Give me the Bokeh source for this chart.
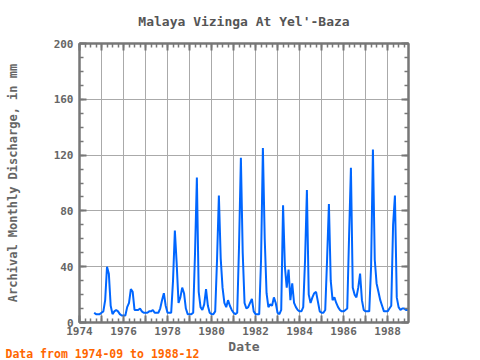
from bokeh.plotting import figure
from bokeh.models import Range1d, FixedTicker, LinearAxis, Title, CustomJSTickFormatter, ColumnDataSource
from bokeh.embed import file_html
from bokeh.resources import INLINE

# ---- data (monthly discharge, mm) ----
start_year = 1974
start_month = 9
flow_1974 = [7, 6, 6, 6]
flow_1975 = [7, 8, 16, 40, 35, 12, 6, 8, 9, 8, 6, 5]
flow_1976 = [5, 5, 11, 14, 24, 22, 9, 9, 9, 10, 8, 7]
flow_1977 = [7, 7, 8, 8, 9, 7, 7, 7, 10, 16, 21, 12]
flow_1978 = [7, 7, 7, 30, 66, 42, 14, 18, 25, 21, 10, 6]
flow_1979 = [6, 6, 7, 50, 104, 22, 11, 9, 13, 24, 12, 7]
flow_1980 = [6, 6, 8, 45, 91, 46, 25, 14, 11, 16, 12, 9]
flow_1981 = [7, 6, 7, 55, 118, 50, 14, 10, 11, 14, 17, 8]
flow_1982 = [6, 6, 6, 45, 125, 60, 21, 11, 13, 12, 18, 14]
flow_1983 = [7, 6, 9, 84, 40, 25, 38, 16, 28, 14, 11, 9]
flow_1984 = [8, 8, 11, 45, 95, 20, 14, 18, 21, 22, 15, 8]
flow_1985 = [7, 7, 9, 45, 85, 30, 16, 18, 14, 11, 9, 8]
flow_1986 = [8, 9, 10, 62, 111, 25, 20, 18, 25, 35, 16, 9]
flow_1987 = [8, 8, 8, 40, 124, 45, 28, 22, 16, 12, 8, 8]
flow_1988 = [8, 10, 12, 70, 91, 18, 11, 9, 10, 10, 9, 9]

x_tick_years = list(range(1974, 1990))
y_tick_values = [0, 40, 80, 120, 160, 200]

title_text = "Malaya Vizinga At Yel'-Baza"
y_label_text = "Archival Monthly Discharge, in mm"
x_label_text = "Date"
note_text = "Data from 1974-09 to 1988-12"

yearly = [flow_1974, flow_1975, flow_1976, flow_1977, flow_1978, flow_1979,
          flow_1980, flow_1981, flow_1982, flow_1983, flow_1984, flow_1985,
          flow_1986, flow_1987, flow_1988]
values = [v for yr in yearly for v in yr]
dates = [start_year + (start_month - 1 + i) / 12.0 for i in range(len(values))]
src = ColumnDataSource(data=dict(t=dates, q=values))

FONT = "DejaVu Sans Mono"
GRAY = "#777777"

p = figure(width=480, height=360,
           x_range=Range1d(1974, 1988.95), y_range=Range1d(0, 200),
           output_backend="svg", toolbar_location=None,
           min_border_left=79, min_border_right=72,
           min_border_top=43, min_border_bottom=38)
p.background_fill_color = "white"
p.border_fill_color = "white"
p.outline_line_color = GRAY
p.outline_line_width = 2

p.title = Title(text=title_text, align="center", vertical_align="top",
                text_font=FONT, text_font_size="13px", text_font_style="bold",
                text_color="#555555", standoff=26)

xt = FixedTicker(ticks=x_tick_years,
                 minor_ticks=[y + q / 4.0 for y in x_tick_years for q in range(4)])
yt = FixedTicker(ticks=y_tick_values, minor_ticks=list(range(0, 201, 10)))
fmt_x = CustomJSTickFormatter(code="return (Math.round(tick) % 2 === 0) ? String(Math.round(tick)) : '';")
blank = CustomJSTickFormatter(code="return '';")

def style_axis(ax, show_labels):
    ax.axis_line_color = GRAY
    ax.axis_line_width = 2
    ax.major_tick_line_color = GRAY
    ax.minor_tick_line_color = GRAY
    ax.major_tick_line_width = 2
    ax.minor_tick_line_width = 1.5
    ax.major_tick_in = 7
    ax.major_tick_out = 0
    ax.minor_tick_in = 4
    ax.minor_tick_out = 0
    ax.major_label_text_font = FONT
    ax.major_label_text_font_size = "11px"
    ax.major_label_text_font_style = "bold"
    ax.major_label_text_color = "#666666"
    ax.major_label_standoff = 4
    ax.axis_label_text_font = FONT
    ax.axis_label_text_font_style = "bold"
    ax.axis_label_text_color = "#666666"
    if not show_labels:
        ax.formatter = blank
        ax.major_label_standoff = 0
        ax.major_label_text_font_size = "0px"

p.xaxis.ticker = xt
p.xaxis.formatter = fmt_x
p.yaxis.ticker = yt
style_axis(p.xaxis[0], True)
style_axis(p.yaxis[0], True)
p.xaxis.axis_label = x_label_text
p.xaxis.axis_label_text_font_size = "13px"
p.xaxis.axis_label_standoff = 1
p.yaxis.axis_label = y_label_text
p.yaxis.axis_label_text_font_size = "12px"
p.yaxis.axis_label_standoff = 31
p.yaxis.major_label_standoff = 6

top_ax = LinearAxis(ticker=xt)
right_ax = LinearAxis(ticker=yt)
style_axis(top_ax, False)
style_axis(right_ax, False)
p.add_layout(top_ax, "above")
p.add_layout(right_ax, "right")

note = Title(text=note_text, align="left", vertical_align="top", text_font=FONT,
             text_font_size="11.5px", text_font_style="bold",
             text_color="#ff6600", standoff=-20, offset=-74)
p.add_layout(note, "below")

p.xgrid.grid_line_color = "#aaaaaa"
p.ygrid.grid_line_color = "#aaaaaa"
p.xgrid.grid_line_width = 1
p.ygrid.grid_line_width = 1

p.line("t", "q", source=src, line_color="#0066ff", line_width=2)

open("out.html", "w").write(file_html(p, INLINE))
